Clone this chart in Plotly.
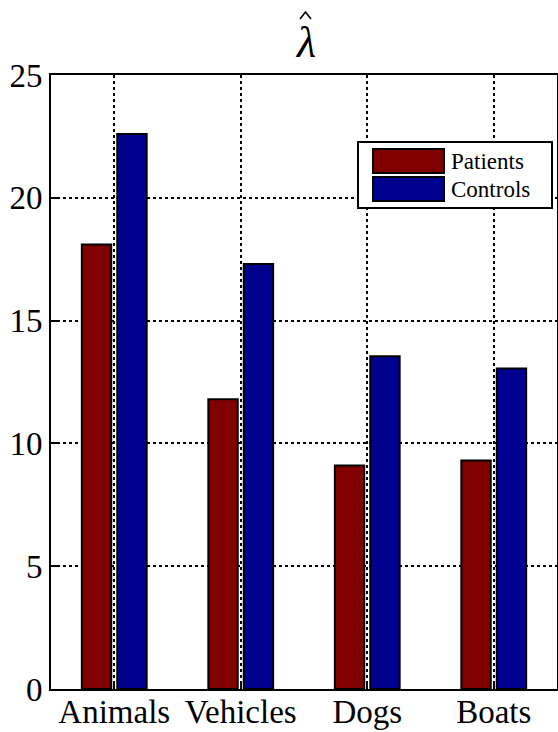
import plotly.graph_objects as go

categories = ["Animals", "Vehicles", "Dogs", "Boats"]
patients = [18.1, 11.8, 9.1, 9.3]
controls = [22.6, 17.3, 13.55, 13.05]
series_names = ["Patients", "Controls"]
colors = ["#800000", "#00008E"]
y_ticks = [0, 5, 10, 15, 20, 25]

W, H = 558, 732
L, R, T, B = 51, 1, 75, 43

fig = go.Figure()
for name, vals, col in zip(series_names, [patients, controls], colors):
    fig.add_trace(go.Bar(
        x=categories, y=vals, name=name,
        marker=dict(color=col, line=dict(color="black", width=2)),
        showlegend=False,
    ))

serif = "Liberation Serif"
fig.update_layout(
    width=W, height=H,
    margin=dict(l=L, r=R, t=T, b=B, pad=0, autoexpand=False),
    paper_bgcolor="white", plot_bgcolor="white",
    barmode="group", bargap=0.44, bargroupgap=0.17,
    font=dict(family=serif, color="black", size=33),
)
fig.update_xaxes(
    range=[-0.5, 3.5], showline=True, linecolor="black", linewidth=2, mirror=True,
    showgrid=True, gridcolor="black", griddash="dot", gridwidth=2,
    ticks="inside", ticklen=6, tickwidth=2, tickcolor="black",
    tickfont=dict(family=serif, size=33), automargin=False,
    ticklabelstandoff=-8,
)
fig.update_yaxes(
    range=[0, 25], tickvals=y_ticks, showline=True, linecolor="black", linewidth=2, mirror=True,
    showgrid=True, gridcolor="black", griddash="dot", gridwidth=2, zeroline=False,
    ticks="inside", ticklen=6, tickwidth=2, tickcolor="black",
    tickfont=dict(family=serif, size=33), automargin=False,
)

pw = W - L - R
ph = H - T - B
def px_x(x):
    return (x - L) / pw
def px_y(y):
    return 1 - (y - T) / ph

# Title: italic lambda with a hat (hat drawn as a small path)
fig.add_annotation(xref="paper", yref="paper", x=px_x(305), y=px_y(43), text="<i>λ</i>",
                   showarrow=False, xanchor="center", yanchor="middle",
                   font=dict(family=serif, size=44, color="black"))
hat = "M {:.5f} {:.5f} L {:.5f} {:.5f} L {:.5f} {:.5f}".format(
    px_x(300), px_y(19), px_x(305.5), px_y(12), px_x(311), px_y(19))
fig.add_shape(type="path", xref="paper", yref="paper", path=hat,
              line=dict(color="black", width=1.6))

# Custom legend (large swatches, as in the reference)
fig.add_shape(type="rect", xref="paper", yref="paper",
              x0=px_x(358), x1=px_x(552), y0=px_y(208), y1=px_y(142),
              line=dict(color="black", width=2), fillcolor="white", layer="above")
sw_y = [(149, 173), (177, 201)]
for (y0, y1), name, col in zip(sw_y, series_names, colors):
    fig.add_shape(type="rect", xref="paper", yref="paper",
                  x0=px_x(373), x1=px_x(444), y0=px_y(y1), y1=px_y(y0),
                  line=dict(color="black", width=2), fillcolor=col, layer="above")
    fig.add_annotation(xref="paper", yref="paper", x=px_x(449), y=px_y((y0 + y1) / 2),
                       text=name, showarrow=False, xanchor="left", yanchor="middle",
                       font=dict(family=serif, size=23, color="black"))

fig.write_html("out.html", config={"displayModeBar": False},
               post_script="document.body.style.margin='0px';document.body.style.padding='0px';")
